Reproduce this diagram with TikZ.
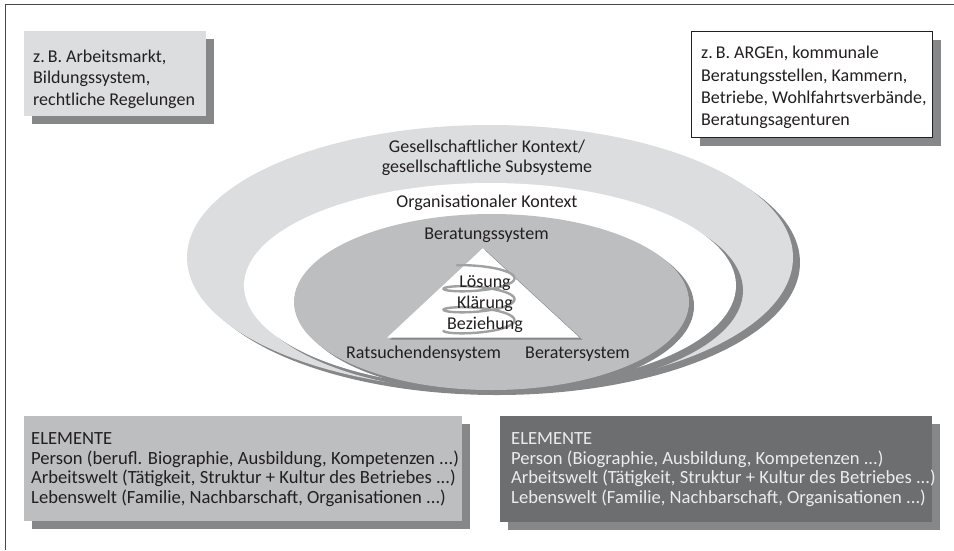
\documentclass[tikz,border=0pt]{standalone}
\usepackage{fontspec}
\setmainfont{Carlito}
\usetikzlibrary{shapes.geometric,shadows}
\definecolor{lightgray}{RGB}{220,221,223}
\definecolor{midgray}{RGB}{189,190,192}
\definecolor{shadowgray}{RGB}{134,135,137}
\definecolor{darkbox}{RGB}{109,110,112}
\definecolor{framecol}{RGB}{70,70,70}
\definecolor{inkcol}{RGB}{35,31,32}
\definecolor{lightink}{RGB}{236,236,236}
\definecolor{spiralcol}{RGB}{160,161,163}
\begin{document}
\begin{tikzpicture}[x=1pt,y=-1pt,
  lbl/.style={font=\fontsize{18}{21}\selectfont, text=inkcol, inner sep=0pt},
  lblw/.style={lbl, anchor=base west},
  lblc/.style={lbl, anchor=base},
  elem/.style={lblw, font=\fontsize{18.6}{21}\selectfont},
  infobox/.style={rectangle, inner sep=0pt, anchor=north west,
    drop shadow={shadow xshift=8pt, shadow yshift=-8pt, opacity=1, fill=shadowgray}},
  ring/.style={ellipse, inner sep=0pt}
]
\useasboundingbox (0,0) rectangle (954,550);

% frame: left and top rule
\coordinate (fbl) at (5.7,550);
\coordinate (ftl) at (5.7,4.3);
\coordinate (ftr) at (954,4.3);
\draw[framecol, line width=1.4pt] (fbl) -- (ftl) -- (ftr);

% nested context ellipses with offset shadows
\node[ring, fill=lightgray, minimum width=606, minimum height=265,
  drop shadow={shadow xshift=7pt, shadow yshift=-5pt, opacity=1, fill=shadowgray}]
  (society) at (490,257.5) {};
\node[ring, fill=white, minimum width=492, minimum height=205,
  drop shadow={shadow xshift=7pt, shadow yshift=-5pt, opacity=1, fill=shadowgray}]
  (organisation) at (490,285.5) {};
\node[ring, fill=midgray, minimum width=395, minimum height=176,
  drop shadow={shadow xshift=5pt, shadow yshift=-4pt, opacity=1, fill=shadowgray}]
  (counselling) at (491.5,302) {};

% triangle of the counselling relation
\coordinate (apex) at (482.7,248.3);
\coordinate (tl) at (387,337.7);
\coordinate (tr) at (579.5,337.7);
\fill[shadowgray] ([shift={(3,2)}]apex) -- ([shift={(3,2)}]tl) -- ([shift={(3,2)}]tr) -- cycle;
\fill[white] (apex) -- (tl) -- (tr) -- cycle;

% helix behind the three levels
\draw[spiralcol, line width=2.4pt, line cap=round]
  plot[domain=232:1260, samples=240, variable=\t, smooth]
  ({479+35.5*cos(\t)}, {257.25+0.058333*\t+7*sin(\t)});

% ellipse labels
\node[lblc] (l-ges1) at (487,152.5) {Gesellschaftlicher Kontext/};
\node[lblc] (l-ges2) at (487,172.5) {gesellschaftliche Subsysteme};
\node[lblc] (l-org) at (487,207.5) {Organisationaler Kontext};
\node[lblc] (l-ber) at (486.5,239.5) {Beratungssystem};
\node[lblc] (l-loe) at (485,287) {Lösung};
\node[lblc] (l-kla) at (485,308) {Klärung};
\node[lblc] (l-bez) at (485,329) {Beziehung};
\node[lblc] (l-rat) at (423.5,358.5) {Ratsuchendensystem};
\node[lblc] (l-bsy) at (577.5,358.5) {Beratersystem};

% example boxes
\node[infobox, fill=lightgray, minimum width=182, minimum height=85] (tlbox) at (24,31) {};
\node[lblw] (tl1) at (33,62) {z.\,B. Arbeitsmarkt,};
\node[lblw] (tl2) at (33,83.5) {Bildungssystem,};
\node[lblw] (tl3) at (33,105) {rechtliche Regelungen};

\node[infobox, fill=white, draw=inkcol, line width=1.2pt, minimum width=241, minimum height=106] (trbox) at (691,31) {};
\node[lblw] (tr1) at (701,58.5) {z.\,B. ARGEn, kommunale};
\node[lblw] (tr2) at (701,81) {Beratungsstellen, Kammern,};
\node[lblw] (tr3) at (701,103.5) {Betriebe, Wohlfahrtsverbände,};
\node[lblw] (tr4) at (701,125) {Beratungsagenturen};

% element boxes
\node[infobox, fill=midgray, minimum width=438, minimum height=105] (blbox) at (24,416) {};
\node[elem] (bl1) at (31,444.5) {ELEMENTE};
\node[elem] (bl2) at (31,464) {Person (berufl. Biographie, Ausbildung, Kompetenzen ...)};
\node[elem] (bl3) at (31,483.5) {Arbeitswelt (Tätigkeit, Struktur + Kultur des Betriebes ...)};
\node[elem] (bl4) at (31,503) {Lebenswelt (Familie, Nachbarschaft, Organisationen ...)};

\node[infobox, fill=darkbox, minimum width=432, minimum height=106] (brbox) at (500,416) {};
\node[elem, text=lightink] (br1) at (511,444.5) {ELEMENTE};
\node[elem, text=lightink] (br2) at (511,464) {Person (Biographie, Ausbildung, Kompetenzen ...)};
\node[elem, text=lightink] (br3) at (511,483.5) {Arbeitswelt (Tätigkeit, Struktur + Kultur des Betriebes ...)};
\node[elem, text=lightink] (br4) at (511,503) {Lebenswelt (Familie, Nachbarschaft, Organisationen ...)};
\end{tikzpicture}
\end{document}
